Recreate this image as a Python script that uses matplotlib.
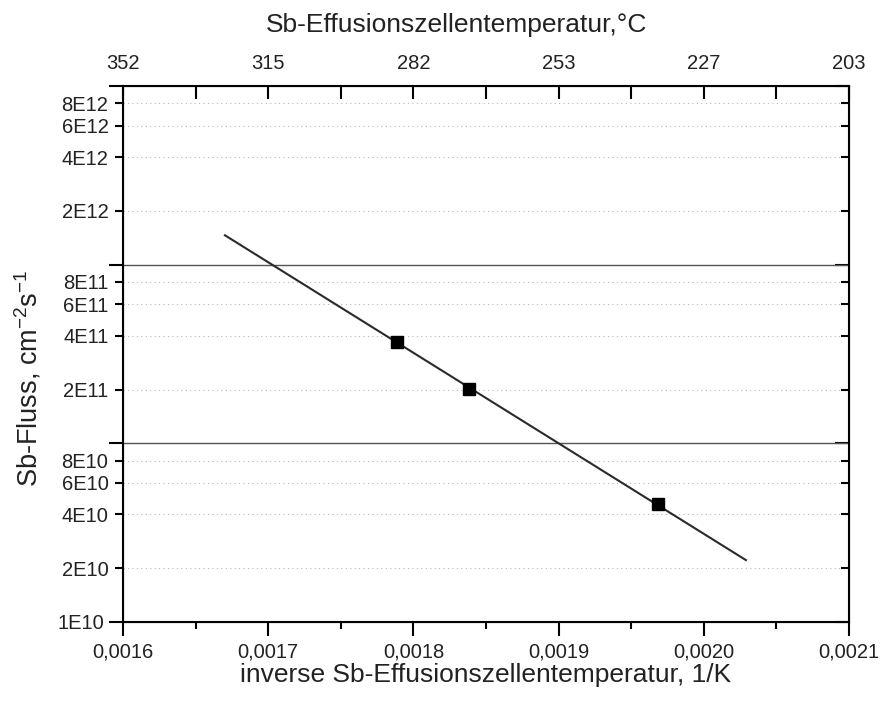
import matplotlib
matplotlib.use("Agg")
import matplotlib.pyplot as plt
from matplotlib.ticker import FixedLocator, FixedFormatter, NullFormatter

plt.rcParams['font.family'] = ['Liberation Sans', 'DejaVu Sans']
plt.rcParams['mathtext.default'] = 'regular'

# measured points
inv_T = [0.0017887, 0.0018383, 0.0019685]
flux = [3.69e11, 2.01e11, 4.57e10]

# fitted line (endpoints)
fit_x = [0.0016702, 0.002029]
fit_y = [1.46e12, 2.22e10]

x_ticks = [0.0016, 0.0017, 0.0018, 0.0019, 0.0020, 0.0021]
x_labels = ['0,0016', '0,0017', '0,0018', '0,0019', '0,0020', '0,0021']
x_minor = [0.00165, 0.00175, 0.00185, 0.00195, 0.00205]
top_labels = ['352', '315', '282', '253', '227', '203']

y_major = [1e10, 1e11, 1e12, 1e13]
y_major_labels = ['1E10', '', '', '']
y_minor = [2e10, 4e10, 6e10, 8e10, 2e11, 4e11, 6e11, 8e11, 2e12, 4e12, 6e12, 8e12]
y_minor_labels = ['2E10', '4E10', '6E10', '8E10', '2E11', '4E11', '6E11', '8E11',
                  '2E12', '4E12', '6E12', '8E12']

fig = plt.figure(figsize=(8.8, 7.02), dpi=100)
ax = fig.add_axes([0.1398, 0.1140, 0.8250, 0.7635])

ax.set_yscale('log')
ax.set_xlim(0.0016, 0.0021)
ax.set_ylim(1e10, 1e13)

# grid
for v in y_minor:
    ax.axhline(v, color='#b8b8b8', lw=0.8, ls=(0, (1, 3)), zorder=1)
for v in [1e11, 1e12]:
    ax.axhline(v, color='#555555', lw=1.0, zorder=2)

ax.plot(fit_x, fit_y, color='#2a2a2a', lw=1.5, zorder=3)
ax.plot(inv_T, flux, 's', color='black', markersize=8.5, zorder=4)

ax.xaxis.set_major_locator(FixedLocator(x_ticks))
ax.xaxis.set_major_formatter(FixedFormatter(x_labels))
ax.xaxis.set_minor_locator(FixedLocator(x_minor))
ax.yaxis.set_major_locator(FixedLocator(y_major))
ax.yaxis.set_major_formatter(FixedFormatter(y_major_labels))
ax.yaxis.set_minor_locator(FixedLocator(y_minor))
ax.yaxis.set_minor_formatter(FixedFormatter(y_minor_labels))

ax.tick_params(axis='x', which='major', direction='out', length=10, width=1.5,
               labelsize=14.5, pad=4.5, colors='black', labelcolor='#222222')
ax.tick_params(axis='x', which='minor', direction='out', length=5, width=1.5)
ax.tick_params(axis='y', which='major', direction='out', length=10, width=1.5,
               labelsize=14.5, labelcolor='#222222')
ax.tick_params(axis='y', which='minor', direction='out', length=6, width=1.5,
               labelsize=14.5, labelcolor='#222222', pad=4.5)
ax.tick_params(axis='y', which='both', right=True)
for t in ax.yaxis.get_ticklines(minor=True)[1::2]:
    t.set_marker(0)
for t in ax.yaxis.get_ticklines()[1::2]:
    t.set_marker(0)

for s in ax.spines.values():
    s.set_linewidth(1.5)

ax.set_xlabel('inverse Sb-Effusionszellentemperatur, 1/K', fontsize=19,
              color='#222222')
ax.xaxis.set_label_coords(0.5, -0.076)
ax.set_ylabel('Sb-Fluss, cm$^{-2}$s$^{-1}$', fontsize=19.5, color='#222222')
ax.yaxis.set_label_coords(-0.110, 0.454)

top = ax.twiny()
top.set_xlim(ax.get_xlim())
top.xaxis.set_major_locator(FixedLocator(x_ticks))
top.xaxis.set_major_formatter(FixedFormatter(top_labels))
top.xaxis.set_minor_locator(FixedLocator(x_minor))
top.xaxis.set_minor_formatter(NullFormatter())
top.tick_params(axis='x', which='both', direction='in', length=9, width=1.5,
                labelsize=14.5, pad=9.5, labelcolor='#222222')
top.set_xlabel('Sb-Effusionszellentemperatur,°C', fontsize=19, color='#222222')
top.xaxis.set_label_coords(0.4587, 1.1007)

fig.savefig('out.png', dpi=100)
